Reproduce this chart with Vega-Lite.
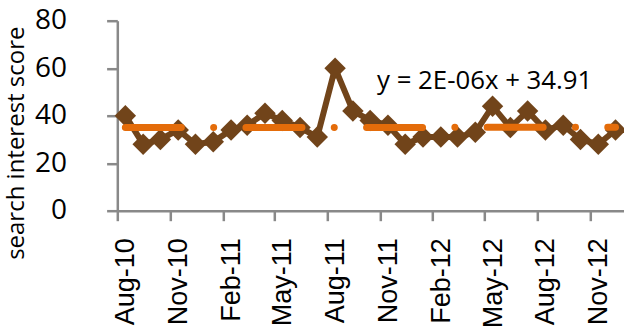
{
  "$schema": "https://vega.github.io/schema/vega-lite/v6.json",
  "width": 508,
  "height": 190,
  "autosize": {"type": "none"},
  "padding": {"left": 117.3, "top": 20.7, "right": 0, "bottom": 120.3},
  "background": "white",
  "config": {"view": {"stroke": null}},
  "data": {"values": [
    {"date": "2010-08-15", "score": 40},
    {"date": "2010-09-15", "score": 28},
    {"date": "2010-10-15", "score": 30},
    {"date": "2010-11-15", "score": 34},
    {"date": "2010-12-15", "score": 28},
    {"date": "2011-01-15", "score": 29},
    {"date": "2011-02-15", "score": 34},
    {"date": "2011-03-15", "score": 36},
    {"date": "2011-04-15", "score": 41},
    {"date": "2011-05-15", "score": 38},
    {"date": "2011-06-15", "score": 35},
    {"date": "2011-07-15", "score": 31},
    {"date": "2011-08-15", "score": 60},
    {"date": "2011-09-15", "score": 42},
    {"date": "2011-10-15", "score": 38},
    {"date": "2011-11-15", "score": 36},
    {"date": "2011-12-15", "score": 28},
    {"date": "2012-01-15", "score": 31},
    {"date": "2012-02-15", "score": 31},
    {"date": "2012-03-15", "score": 31},
    {"date": "2012-04-15", "score": 33},
    {"date": "2012-05-15", "score": 44},
    {"date": "2012-06-15", "score": 35},
    {"date": "2012-07-15", "score": 42},
    {"date": "2012-08-15", "score": 34},
    {"date": "2012-09-15", "score": 36},
    {"date": "2012-10-15", "score": 30},
    {"date": "2012-11-15", "score": 28},
    {"date": "2012-12-15", "score": 34}
  ]},
  "layer": [
    {
      "mark": {"type": "line", "color": "#71441A", "strokeWidth": 6,
        "point": {"shape": "diamond", "size": 460, "filled": true, "color": "#71441A", "opacity": 1}},
      "encoding": {
        "x": {"field": "date", "type": "temporal",
          "scale": {"domain": [{"year": 2010, "month": 8, "date": 1}, {"year": 2013, "month": 1, "date": 1}]},
          "axis": {
            "title": null, "grid": false, "format": "%b-%y",
            "values": [
              {"year": 2010, "month": 8, "date": 1}, {"year": 2010, "month": 11, "date": 1},
              {"year": 2011, "month": 2, "date": 1}, {"year": 2011, "month": 5, "date": 1},
              {"year": 2011, "month": 8, "date": 1}, {"year": 2011, "month": 11, "date": 1},
              {"year": 2012, "month": 2, "date": 1}, {"year": 2012, "month": 5, "date": 1},
              {"year": 2012, "month": 8, "date": 1}, {"year": 2012, "month": 11, "date": 1}
            ],
            "domainColor": "#898989", "domainWidth": 2.5,
            "tickColor": "#898989", "tickWidth": 2.5, "tickSize": 10,
            "labelAngle": -90, "labelAlign": "right", "labelBaseline": "middle",
            "labelFont": "Liberation Sans", "labelFontSize": 27, "labelColor": "#000000",
            "labelPadding": 17, "labelOffset": 8.5, "labelFlush": false, "labelOverlap": false, "labelBound": false
          }},
        "y": {"field": "score", "type": "quantitative",
          "scale": {"domain": [0, 80]},
          "axis": {
            "values": [0, 20, 40, 60, 80], "grid": false,
            "title": "search interest score",
            "titleFont": "Open Sans", "titleFontSize": 24, "titleFontWeight": "normal", "titleColor": "#000000",
            "titleAngle": -90, "titleAlign": "center", "titleBaseline": "bottom", "titleY": 122, "titlePadding": 6,
            "domainColor": "#898989", "domainWidth": 2.5,
            "tickColor": "#898989", "tickWidth": 2.5, "tickSize": 10.7,
            "labelFont": "Open Sans", "labelFontSize": 28, "labelColor": "#000000", "labelPadding": 40
          }}
      }
    },
    {
      "transform": [{"regression": "score", "on": "date"}],
      "mark": {"type": "line", "color": "#E46C0A", "strokeWidth": 7, "strokeCap": "round", "strokeDash": [56, 32.3, 0.01, 32.3]},
      "encoding": {
        "x": {"field": "date", "type": "temporal"},
        "y": {"field": "score", "type": "quantitative"}
      }
    },
    {
      "data": {"values": [{"date": "2011-10-27", "score": 51.2, "label": "y = 2E-06x + 34.91"}]},
      "mark": {"type": "text", "align": "left", "baseline": "alphabetic", "font": "Open Sans", "fontSize": 25.8, "color": "#000000"},
      "encoding": {
        "x": {"field": "date", "type": "temporal"},
        "y": {"field": "score", "type": "quantitative"},
        "text": {"field": "label"}
      }
    }
  ]
}
